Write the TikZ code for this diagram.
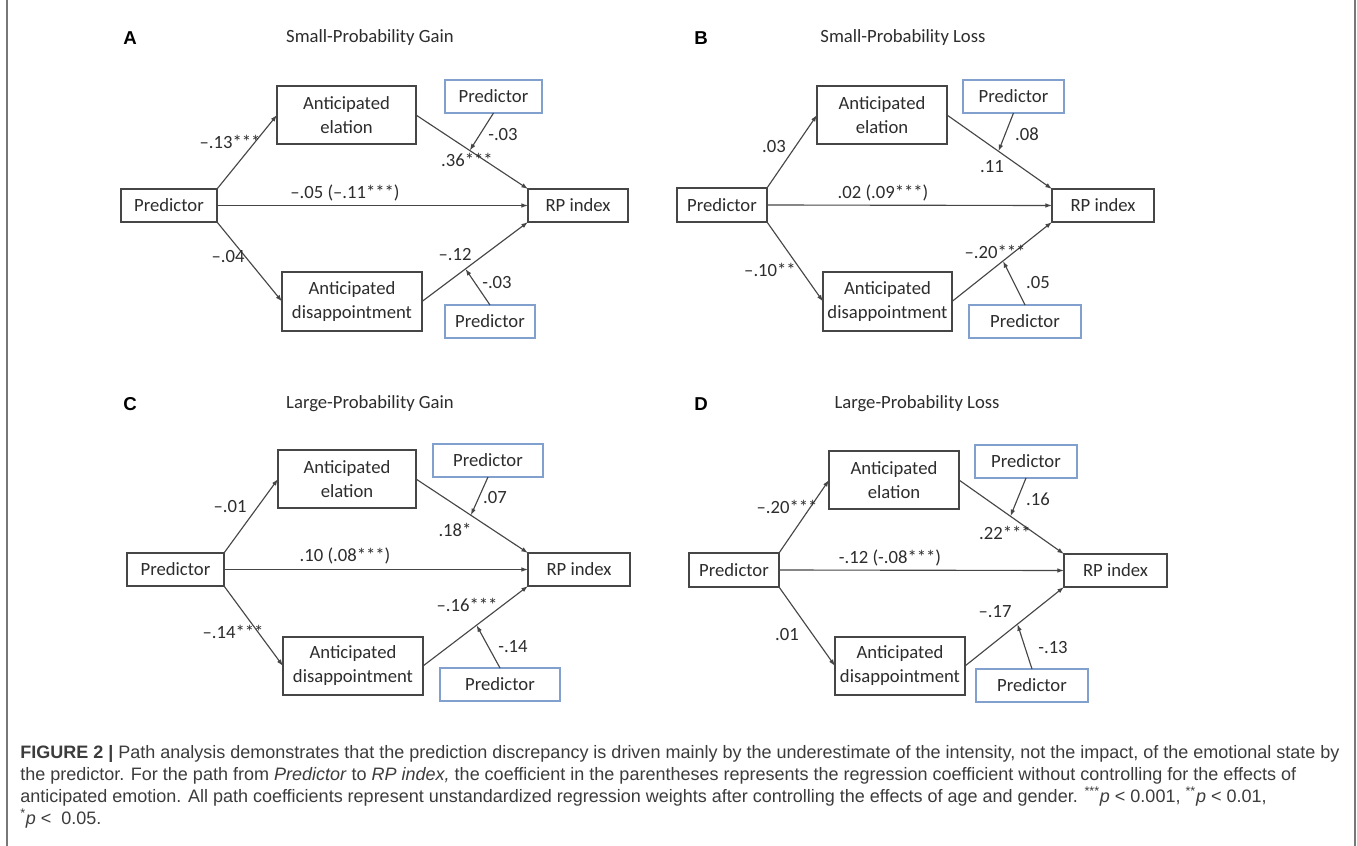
\documentclass[tikz,border=0pt]{standalone}
\usepackage{fontspec}
\setmainfont{Carlito}
\newfontfamily\capfont{Liberation Sans}
\newfontfamily\lblfont{Liberation Sans}
\usetikzlibrary{arrows.meta,calc}
\definecolor{boxline}{RGB}{70,70,70}
\definecolor{blueline}{RGB}{130,160,205}
\definecolor{txt}{RGB}{45,45,45}
\definecolor{captxt}{RGB}{60,60,60}
\definecolor{frameline}{RGB}{120,120,120}
\tikzset{
 bx/.style={draw=boxline, line width=0.9pt, inner sep=0pt, outer sep=0pt, align=center, text=txt, font=\fontsize{14}{18}\selectfont},
 bbx/.style={bx, draw=blueline},
 arr/.style={draw=boxline, line width=0.85pt, -{Latex[length=5pt,width=3.5pt]}},
 coef/.style={text=txt, font=\fontsize{14}{16}\selectfont, inner sep=0pt},
 ttl/.style={text=txt, font=\fontsize{14}{16}\selectfont, inner sep=0pt},
 plabel/.style={font=\lblfont\bfseries\fontsize{14}{16}\selectfont, text=black, inner sep=0pt},
 capline/.style={anchor=base west, inner sep=0pt, text=captxt, font=\capfont\fontsize{13.5}{16}\selectfont},
}
\newcommand{\mkbox}[7][bx]{\node[#1, minimum width={(#4-#2)*0.75pt}, minimum height={(#5-#3)*0.75pt}] (#6) at ({(#2+#4)/2},{(#3+#5)/2}) {#7};}
\begin{document}
\begin{tikzpicture}[x=0.75pt,y=-0.75pt]
\useasboundingbox (0,0) rectangle (1357,846);
\fill[white] (0,0) rectangle (1357,846);
\draw[frameline, line width=0.9pt] (7,0) -- (7,846);
\draw[frameline, line width=0.9pt] (1355,0) -- (1355,846);

% ---------------- Panel A
\node[plabel] (labA) at (130,38) {A};
\node[ttl] (tA) at (370,38) {Small-Probability Gain};
\mkbox{277}{86}{416}{144}{elA}{Anticipated\\elation}
\mkbox[bbx]{445}{80}{542}{113}{ptA}{Predictor}
\mkbox{121}{189}{217}{222}{pA}{Predictor}
\mkbox{528}{189}{628}{222}{rpA}{RP index}
\mkbox{282}{272}{422}{331}{dA}{Anticipated\\disappointment}
\mkbox[bbx]{445}{305}{535}{338}{pbA}{Predictor}
\draw[arr] (pA.north east) -- (elA.west);
\draw[arr] (pA.east) -- (rpA.west);
\draw[arr] (pA.south east) -- (dA.west);
\draw[arr] (elA.east) -- (rpA.north west);
\draw[arr] (dA.east) -- (rpA.south west);
\coordinate (mtA) at ($(elA.east)!0.48!(rpA.north west)$);
\coordinate (mbA) at ($(dA.east)!0.41!(rpA.south west)$);
\draw[arr] (ptA.south) -- (mtA);
\draw[arr] (pbA.north) -- (mbA);
\node[coef] (cA1) at (230,142) {–.13***};
\node[coef] (cA2) at (467,160) {.36***};
\node[coef] (cA3) at (503,135) {-.03};
\node[coef] (cA4) at (345,193) {–.05 (–.11***)};
\node[coef] (cA5) at (228,257) {–.04};
\node[coef] (cA6) at (455,255) {–.12};
\node[coef] (cA7) at (497,283) {-.03};

% ---------------- Panel B
\node[plabel] (labB) at (701,38) {B};
\node[ttl] (tB) at (903,38) {Small-Probability Loss};
\mkbox{817}{86}{947}{144}{elB}{Anticipated\\elation}
\mkbox[bbx]{963}{80}{1064}{113}{ptB}{Predictor}
\mkbox{677}{188}{767}{222}{pB}{Predictor}
\mkbox{1052}{189}{1154}{222}{rpB}{RP index}
\mkbox{823}{272}{952}{331}{dB}{Anticipated\\disappointment}
\mkbox[bbx]{969}{305}{1081}{338}{pbB}{Predictor}
\draw[arr] (pB.north east) -- (elB.west);
\draw[arr] (pB.east) -- (rpB.west);
\draw[arr] (pB.south east) -- (dB.west);
\draw[arr] (elB.east) -- (rpB.north west);
\draw[arr] (dB.east) -- (rpB.south west);
\coordinate (mtB) at ($(elB.east)!0.49!(rpB.north west)$);
\coordinate (mbB) at ($(dB.east)!0.51!(rpB.south west)$);
\draw[arr] (ptB.south) -- (mtB);
\draw[arr] (pbB.north) -- (mbB);
\node[coef] (cB1) at (774,147) {.03};
\node[coef] (cB2) at (1027,134) {.08};
\node[coef] (cB3) at (992,167) {.11};
\node[coef] (cB4) at (883,193) {.02 (.09***)};
\node[coef] (cB5) at (770,270) {–.10**};
\node[coef] (cB6) at (995,252) {–.20***};
\node[coef] (cB7) at (1038,283) {.05};

% ---------------- Panel C
\node[plabel] (labC) at (130,404) {C};
\node[ttl] (tC) at (370,404) {Large-Probability Gain};
\mkbox{278}{450}{416}{508}{elC}{Anticipated\\elation}
\mkbox[bbx]{433}{444}{543}{477}{ptC}{Predictor}
\mkbox{127}{553}{224}{586}{pC}{Predictor}
\mkbox{528}{553}{630}{586}{rpC}{RP index}
\mkbox{283}{637}{423}{695}{dC}{Anticipated\\disappointment}
\mkbox[bbx]{440}{668}{560}{701}{pbC}{Predictor}
\draw[arr] (pC.north east) -- (elC.west);
\draw[arr] (pC.east) -- (rpC.west);
\draw[arr] (pC.south east) -- (dC.west);
\draw[arr] (elC.east) -- (rpC.north west);
\draw[arr] (dC.east) -- (rpC.south west);
\coordinate (mtC) at ($(elC.east)!0.49!(rpC.north west)$);
\coordinate (mbC) at ($(dC.east)!0.51!(rpC.south west)$);
\draw[arr] (ptC.south) -- (mtC);
\draw[arr] (pbC.north) -- (mbC);
\node[coef] (cC1) at (230,507) {–.01};
\node[coef] (cC2) at (495,498) {.07};
\node[coef] (cC3) at (455,530) {.18*};
\node[coef] (cC4) at (345,556) {.10 (.08***)};
\node[coef] (cC5) at (233,632) {–.14***};
\node[coef] (cC6) at (467,605) {–.16***};
\node[coef] (cC7) at (513,647) {-.14};

% ---------------- Panel D
\node[plabel] (labD) at (701,404) {D};
\node[ttl] (tD) at (917,404) {Large-Probability Loss};
\mkbox{829}{451}{959}{509}{elD}{Anticipated\\elation}
\mkbox[bbx]{975}{445}{1077}{478}{ptD}{Predictor}
\mkbox{689}{553}{779}{587}{pD}{Predictor}
\mkbox{1064}{554}{1167}{587}{rpD}{RP index}
\mkbox{835}{637}{965}{695}{dD}{Anticipated\\disappointment}
\mkbox[bbx]{976}{669}{1088}{702}{pbD}{Predictor}
\draw[arr] (pD.north east) -- (elD.west);
\draw[arr] (pD.east) -- (rpD.west);
\draw[arr] (pD.south east) -- (dD.west);
\draw[arr] (elD.east) -- (rpD.north west);
\draw[arr] (dD.east) -- (rpD.south west);
\coordinate (mtD) at ($(elD.east)!0.49!(rpD.north west)$);
\coordinate (mbD) at ($(dD.east)!0.53!(rpD.south west)$);
\draw[arr] (ptD.south) -- (mtD);
\draw[arr] (pbD.north) -- (mbD);
\node[coef] (cD1) at (787,507) {–.20***};
\node[coef] (cD2) at (1038,499) {.16};
\node[coef] (cD3) at (1005,533) {.22***};
\node[coef] (cD4) at (890,558) {-.12 (-.08***)};
\node[coef] (cD5) at (787,635) {.01};
\node[coef] (cD6) at (995,612) {–.17};
\node[coef] (cD7) at (1053,648) {-.13};

% ---------------- Caption
\node[capline] (cap1) at (20,758) {{\bfseries FIGURE 2 |} Path analysis demonstrates that the prediction discrepancy is driven mainly by the underestimate of the intensity, not the impact, of the emotional state by};
\node[capline] (cap2) at (20,780) {the predictor. For the path from \textit{Predictor} to \textit{RP index,} the coefficient in the parentheses represents the regression coefficient without controlling for the effects of};
\node[capline] (cap3) at (20,802) {anticipated emotion. All path coefficients represent unstandardized regression weights after controlling the effects of age and gender. \textsuperscript{***}\textit{p} < 0.001, \textsuperscript{**}\textit{p} < 0.01,};
\node[capline] (cap4) at (20,824) {\textsuperscript{*}\textit{p} <\ \ 0.05.};
\end{tikzpicture}
\end{document}
